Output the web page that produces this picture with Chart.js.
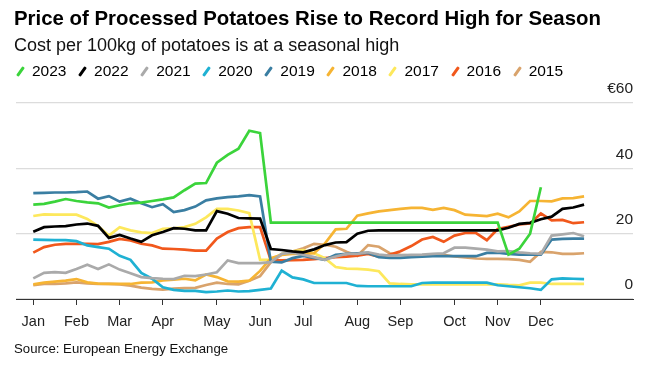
<!DOCTYPE html>
<html>
<head>
<meta charset="utf-8">
<script src="https://cdn.jsdelivr.net/npm/chart.js@4/dist/chart.umd.min.js"></script>
<style>
  html, body { margin:0; padding:0; background:#fff; }
  #wrap { position:relative; width:648px; height:368px; overflow:hidden; font-family:"Liberation Sans", Arial, sans-serif; color:#000; }
  #chart { position:absolute; left:0; top:0; }
  #title { position:absolute; left:14px; top:7px; font-weight:bold; font-size:20.4px; white-space:nowrap; }
  #subtitle { position:absolute; left:14px; top:35px; font-size:18px; white-space:nowrap; color:#111; }
  #legend { position:absolute; left:16px; top:62px; display:flex; font-size:15.5px; white-space:nowrap; }
  .item { display:flex; align-items:center; margin-right:11.6px; }
  .mk { display:inline-block; width:3px; height:11px; transform:rotate(35deg); margin-right:10px; margin-left:3px; border-radius:1px; }
  #source { position:absolute; left:14px; top:341px; font-size:13.2px; color:#111; white-space:nowrap; }
</style>
</head>
<body>
<div id="wrap">
  <canvas id="chart" width="648" height="368"></canvas>
  <div id="title">Price of Processed Potatoes Rise to Record High for Season</div>
  <div id="subtitle">Cost per 100kg of potatoes is at a seasonal high</div>
  <div id="legend"></div>
  <div id="source">Source: European Energy Exchange</div>
</div>
<script>
// ---- data ----
const weeks = [1,2,3,4,5,6,7,8,9,10,11,12,13,14,15,16,17,18,19,20,21,22,23,24,25,26,27,28,29,30,31,32,33,34,35,36,37,38,39,40,41,42,43,44,45,46,47,48,49,50,51,52];
const monthWeeks = [1,5,9,13,18,22,26,31,35,40,44,48];
const monthLabels = ["Jan","Feb","Mar","Apr","May","Jun","Jul","Aug","Sep","Oct","Nov","Dec"];
const yTicks = [0,20,40,60];

const years = ["2023","2022","2021","2020","2019","2018","2017","2016","2015"];
const colors = ["#3bd43b","#000000","#aaaaaa","#1fb1d3","#3a7ea2","#f6b433","#fde85c","#f1581c","#d9a36c"];

const s2023 = [28.9,29.1,29.8,30.6,30.0,29.6,29.3,28.0,28.7,29.3,29.5,30.0,30.5,31.1,33.3,35.3,35.5,41.7,44.1,46.0,51.5,50.8,
  23.4,23.4,23.4,23.4,23.4,23.4,23.4,23.4,23.4,23.4,23.4,23.4,23.4,23.4,23.4,23.4,23.4,23.4,23.4,23.4,23.4,23.4,
  13.6,15.4,20.0,34.2,null,null,null,null];
const s2022 = [20.6,22.0,22.2,22.3,22.8,23.1,22.4,18.7,19.6,18.5,17.5,19.5,20.5,21.7,21.5,21.0,21.0,26.9,26.1,24.8,24.7,24.6,
  15.3,15.0,14.6,14.3,15.2,16.5,17.3,17.4,20.0,20.9,
  21.0,21.0,21.0,21.0,21.0,21.0,21.0,21.0,21.0,21.0,21.0,21.0,
  21.8,23.0,23.3,24.4,25.2,27.6,28.0,28.9];
const s2021 = [6.3,8.0,8.2,8.0,9.2,10.5,9.2,10.6,9.0,7.9,6.7,6.4,6.2,6.1,7.1,7.0,7.5,8.2,11.8,11.0,11.0,11.0,
  11.3,13.8,14.2,13.6,12.8,12.0,13.0,13.8,13.8,14.3,13.6,13.3,13.4,13.5,13.6,13.8,14.0,15.7,15.7,15.4,15.1,14.6,14.7,14.3,14.0,13.8,19.4,19.8,20.2,19.2];
const s2020 = [18.2,18.1,18.0,18.0,17.7,16.4,15.9,15.4,13.2,12.0,8.0,6.2,3.6,2.8,2.5,2.5,2.1,2.3,2.6,2.3,2.4,2.8,
  3.2,8.7,6.6,6.0,4.9,4.9,4.9,4.9,4.0,3.9,3.9,3.9,3.9,3.9,4.9,5.0,5.0,5.0,5.0,5.0,5.0,4.2,3.9,3.6,3.3,2.8,6.0,6.3,6.2,6.1];
const s2019 = [32.4,32.5,32.6,32.6,32.7,32.9,30.7,31.5,29.8,30.7,29.3,28.1,29.0,26.6,27.2,28.3,30.2,30.8,31.2,31.4,31.8,31.4,
  11.4,11.2,12.5,13.2,12.6,12.0,13.5,13.8,14.0,14.1,12.8,12.6,12.6,12.8,13.0,13.1,13.1,13.1,13.1,13.1,14.1,14.2,13.8,13.6,13.6,13.6,18.2,18.4,18.5,18.5];
const s2018 = [4.5,5.0,5.3,5.6,6.1,5.1,4.7,4.6,4.6,4.6,5.0,5.1,5.7,5.9,6.2,5.7,7.5,6.7,5.4,5.3,5.6,8.6,
  12.5,13.5,13.8,13.8,14.0,17.0,21.3,21.5,25.5,26.2,26.8,27.2,27.6,27.9,27.9,27.3,27.9,27.2,25.8,25.6,25.4,26.1,25.0,26.8,30.0,30.0,29.9,30.8,30.9,31.4];
const s2017 = [25.4,25.9,25.8,25.8,25.8,24.5,22.3,19.4,22.0,21.0,20.4,20.2,21.5,21.6,22.0,23.0,25.0,27.6,27.6,27.1,26.3,
  12.0,12.0,13.8,14.6,15.0,14.0,12.5,9.8,9.3,9.2,9.0,8.5,4.8,4.6,4.5,4.5,4.5,4.5,4.5,4.5,4.5,4.5,4.5,4.3,4.2,5.0,5.0,4.6,4.6,4.6,4.6];
const s2016 = [14.2,15.9,16.6,16.9,16.9,16.9,16.8,17.5,18.4,17.9,16.9,16.4,15.4,15.3,15.1,14.8,14.8,18.5,20.5,21.7,22.0,22.0,
  11.8,11.8,11.9,12.0,12.2,12.5,12.8,13.0,13.3,13.8,13.0,13.5,14.6,16.2,18.2,19.0,17.5,19.4,20.2,20.2,18.0,21.4,22.1,22.8,23.1,26.2,24.1,24.2,23.2,23.5];
const s2015 = [4.2,4.6,4.6,4.8,5.1,4.8,4.6,4.6,4.5,4.1,3.5,3.1,2.9,3.2,3.3,3.4,4.3,5.0,4.6,4.5,5.6,7.0,
  11.3,13.6,14.5,15.5,16.9,16.6,16.0,14.5,13.2,16.5,16.0,14.0,13.5,13.3,13.4,13.6,13.5,13.0,12.7,12.4,12.3,12.3,12.2,12.0,11.4,14.4,14.3,13.8,13.8,14.0];

const series = [s2023,s2022,s2021,s2020,s2019,s2018,s2017,s2016,s2015];

// ---- legend ----
const legend = document.getElementById('legend');
years.forEach((y, i) => {
  const it = document.createElement('div'); it.className = 'item';
  const mk = document.createElement('span'); mk.className = 'mk'; mk.style.background = colors[i];
  const tx = document.createElement('span'); tx.textContent = y;
  it.appendChild(mk); it.appendChild(tx); legend.appendChild(it);
});

// ---- chart ----
const datasets = series.map((s, i) => ({
  label: years[i],
  data: s.map((v, k) => ({x: weeks[k], y: v})),
  borderColor: colors[i],
  backgroundColor: colors[i],
  borderWidth: 2.7,
  pointRadius: 0,
  tension: 0,
  spanGaps: false
}));

new Chart(document.getElementById('chart'), {
  type: 'line',
  data: { datasets },
  options: {
    responsive: false,
    animation: false,
    events: [],
    layout: { padding: { left: 16, right: 15, top: 103, bottom: 39 } },
    plugins: { legend: { display: false }, tooltip: { enabled: false }, title: { display: false } },
    scales: {
      x: {
        type: 'linear',
        min: -0.6,
        max: 56.53,
        afterFit: (s) => { s.height = 30; },
        afterBuildTicks: (s) => { s.ticks = monthWeeks.map(v => ({ value: v })); },
        ticks: {
          autoSkip: false,
          maxRotation: 0,
          padding: 8,
          color: '#222',
          font: { family: '"Liberation Sans", Arial, sans-serif', size: 14.5 },
          callback: (v) => monthLabels[monthWeeks.indexOf(v)]
        },
        grid: { drawOnChartArea: false, drawTicks: true, tickLength: 6, color: '#333', tickColor: '#333', lineWidth: 1 },
        border: { display: true, color: '#333', width: 1 }
      },
      y: {
        position: 'right',
        min: 0,
        max: 60,
        afterFit: (s) => { s.width = 0; },
        afterBuildTicks: (s) => { s.ticks = yTicks.map(v => ({ value: v })); },
        ticks: {
          mirror: true,
          padding: 0,
          labelOffset: -14,
          color: '#222',
          font: { family: '"Liberation Sans", Arial, sans-serif', size: 15.5 },
          callback: (v) => (v === 60 ? '€' + v : String(v))
        },
        grid: { drawTicks: false, color: '#dcdcdc', lineWidth: 1.3 },
        border: { display: false }
      }
    }
  }
});
</script>
</body>
</html>
